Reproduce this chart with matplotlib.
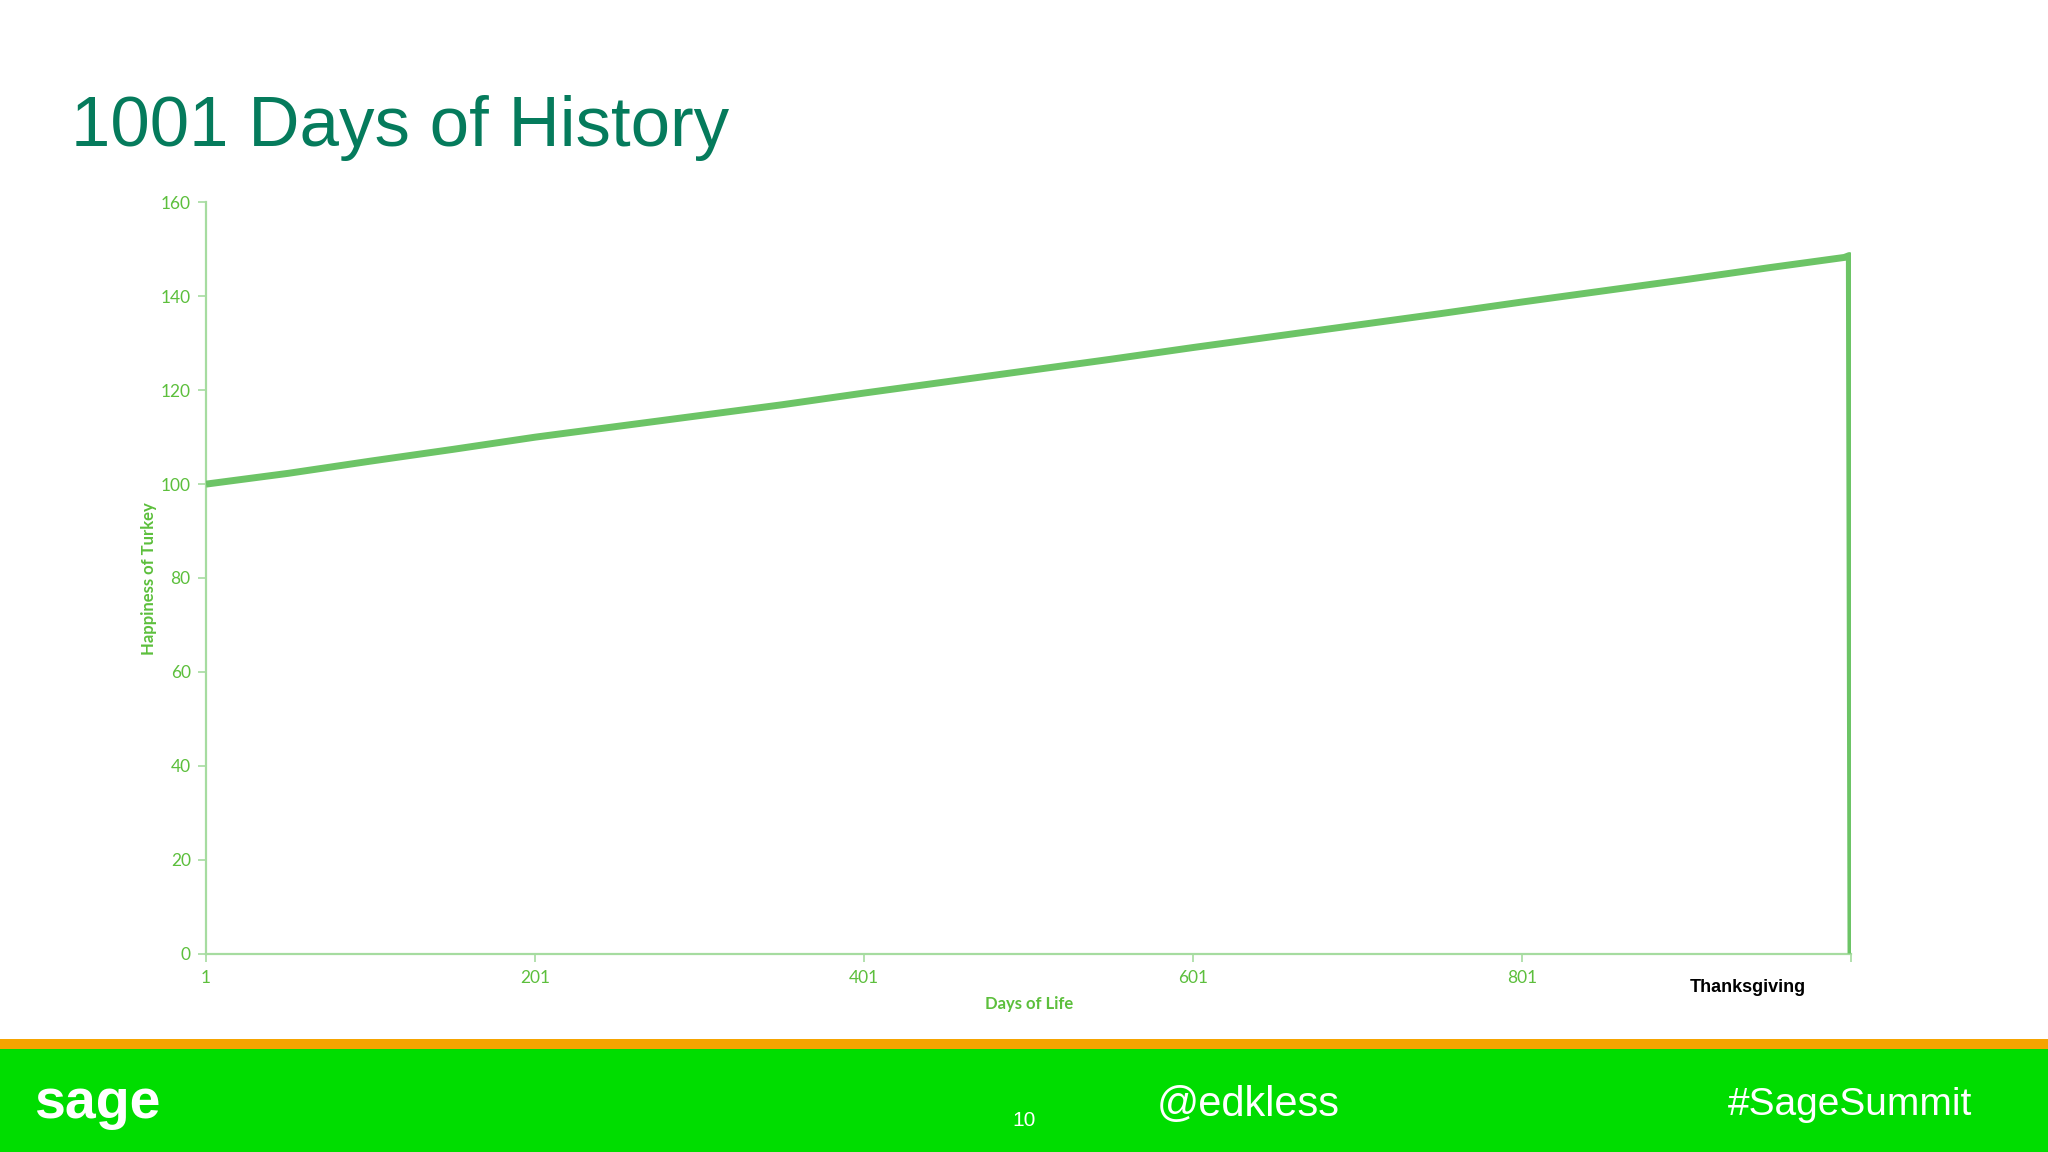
import matplotlib
matplotlib.use("Agg")
import matplotlib.pyplot as plt
from matplotlib.patches import Rectangle

# ---- data ----
days = [1, 51, 101, 151, 201, 251, 301, 351, 401, 451, 501, 551, 601,
        651, 701, 751, 801, 851, 901, 951, 997, 1000, 1001]
happiness = [100.0, 102.3, 104.9, 107.4, 110.0, 112.3, 114.6, 116.9, 119.4,
             121.8, 124.2, 126.6, 129.1, 131.5, 133.9, 136.3, 138.8, 141.2,
             143.6, 146.1, 148.3, 148.7, 0.0]
x_ticks = [1, 201, 401, 601, 801, 1001]
x_tick_labels = ["1", "201", "401", "601", "801", ""]
y_ticks = [0, 20, 40, 60, 80, 100, 120, 140, 160]

title = "1001 Days of History"
x_label = "Days of Life"
y_label = "Happiness of Turkey"
event_label = "Thanksgiving"

W, H = 2048, 1152
fig = plt.figure(figsize=(W / 100, H / 100), dpi=100)
fig.patch.set_facecolor("white")

LINE = "#6cc466"
TXT = "#5cbf3c"
AX = "#a6dca0"
TITLE = "#057b5c"

ax = fig.add_axes([206 / W, 1 - 953.5 / H, (1851 - 206) / W, (953.5 - 202.5) / H])
ax.set_facecolor("white")
ax.plot(days, happiness, color=LINE, lw=5.0, solid_joinstyle="round",
        solid_capstyle="butt", zorder=3)
ax.set_xlim(1, 1001)
ax.set_ylim(0, 160)
ax.set_xticks(x_ticks)
ax.set_xticklabels(x_tick_labels)
ax.set_yticks(y_ticks)
for s in ["top", "right"]:
    ax.spines[s].set_visible(False)
for s in ["left", "bottom"]:
    ax.spines[s].set_color(AX)
    ax.spines[s].set_linewidth(1.6)
ax.tick_params(axis="both", colors=AX, length=6, width=1.2, direction="out",
               labelcolor=TXT, labelsize=12.5)
ax.tick_params(axis="x", pad=6)
ax.tick_params(axis="y", pad=5)
for lab in ax.get_xticklabels() + ax.get_yticklabels():
    lab.set_family(["Lato", "DejaVu Sans"])

fig.text(1029 / W, 1 - 1004 / H, x_label, color=TXT, fontsize=12,
         fontweight="bold", family=["Lato", "DejaVu Sans"], ha="center", va="center")
fig.text(149 / W, 1 - 579 / H, y_label, color=TXT, fontsize=12,
         fontweight="bold", family=["Lato", "DejaVu Sans"], ha="center",
         va="center", rotation=90)
fig.text(1748 / W, 1 - 987 / H, event_label, color="black", fontsize=13,
         fontweight="bold", family=["Liberation Sans", "DejaVu Sans"],
         ha="center", va="center")

# title
fig.text(71 / W, 1 - 128 / H, title, color=TITLE, fontsize=51,
         family=["Liberation Sans", "DejaVu Sans"], ha="left", va="center")

# footer bars
fig.add_artist(Rectangle((0, 0), 1, (H - 1049) / H, transform=fig.transFigure,
                         facecolor="#00dd00", edgecolor="none", zorder=0))
fig.add_artist(Rectangle((0, (H - 1049) / H), 1, 10 / H, transform=fig.transFigure,
                         facecolor="#f6a400", edgecolor="none", zorder=0))

fig.text(34 / W, 1 - 1104 / H, "sage", color="white", fontsize=40,
         fontweight="bold", family=["Liberation Sans", "DejaVu Sans"],
         ha="left", va="center")
fig.text(1024 / W, 1 - 1121 / H, "10", color="white", fontsize=15,
         family=["Liberation Sans", "DejaVu Sans"], ha="center", va="center")
fig.text(1248 / W, 1 - 1105 / H, "@edkless", color="white", fontsize=30,
         family=["Liberation Sans", "DejaVu Sans"], ha="center", va="center")
fig.text(1850 / W, 1 - 1105 / H, "#SageSummit", color="white", fontsize=28,
         family=["Liberation Sans", "DejaVu Sans"], ha="center", va="center")

fig.savefig("out.png", dpi=100, facecolor=fig.get_facecolor())
